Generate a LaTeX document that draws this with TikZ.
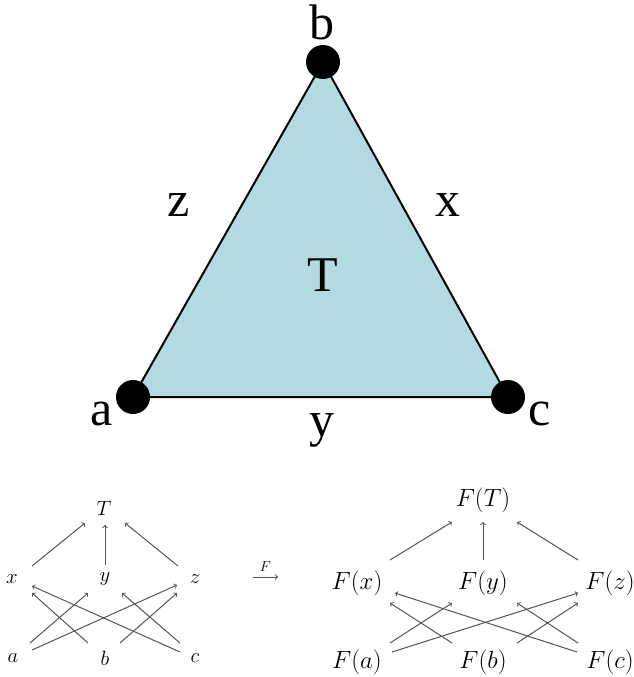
\documentclass[tikz,border=0pt]{standalone}
\usepackage[no-math]{fontspec}
\newfontfamily\trifont{Liberation Serif}
\usetikzlibrary{calc}
\definecolor{trifill}{RGB}{178,218,224}
\definecolor{arrgray}{RGB}{85,85,85}
\begin{document}
\begin{tikzpicture}[x=1pt,y=-1pt,
  biglabel/.style={font=\trifont\fontsize{50}{56}\selectfont, inner sep=0pt},
  vdot/.style={circle, fill=black, minimum size=34pt, inner sep=0pt},
  smalllab/.style={font=\fontsize{21}{25}\selectfont, inner sep=0pt},
  flab/.style={font=\fontsize{24}{28}\selectfont, inner sep=0pt},
  arr/.style={->, draw=arrgray, line width=1pt}]
\useasboundingbox (0,0) rectangle (634,677);
% triangle
\coordinate (A) at (133,397);
\coordinate (B) at (323,62);
\coordinate (C) at (508,397);
\filldraw[fill=trifill, draw=black, line width=2pt, line join=round] (A) -- (B) -- (C) -- cycle;
\node[vdot] (da) at (A) {};
\node[vdot] (db) at (B) {};
\node[vdot] (dc) at (C) {};
\node[biglabel] (lb) at (322,22) {b};
\node[biglabel] (la) at (102,414) {a};
\node[biglabel] (lc) at (540,414) {c};
\node[biglabel] (lz) at (179,205) {z};
\node[biglabel] (lx) at (448,205) {x};
\node[biglabel] (lT) at (323,275) {T};
\node[biglabel] (ly) at (322,430) {y};
% left diagram
\node[smalllab] (T) at (104,508) {$T$};
\node[smalllab] (x) at (12,579) {$x$};
\node[smalllab] (y) at (105,579) {$y$};
\node[smalllab] (z) at (195,579) {$z$};
\node[smalllab] (a) at (13,658) {$a$};
\node[smalllab] (b) at (105,658) {$b$};
\node[smalllab] (c) at (195,658) {$c$};
\draw[arr] ($(x)+(20,-13)$) -- ($(T)+(-19,15)$);
\draw[arr] ($(y)+(0,-14)$) -- ($(T)+(1,17)$);
\draw[arr] ($(z)+(-17,-13)$) -- ($(T)+(21,15)$);
\draw[arr] ($(a)+(17,-15)$) -- ($(y)+(-17,14)$);
\draw[arr] ($(a)+(19,-8)$) -- ($(z)+(-18,6)$);
\draw[arr] ($(b)+(-17,-15)$) -- ($(x)+(20,14)$);
\draw[arr] ($(b)+(15,-15)$) -- ($(z)+(-18,14)$);
\draw[arr] ($(c)+(-15,-15)$) -- ($(y)+(17,14)$);
\draw[arr] ($(c)+(-15,-6)$) -- ($(x)+(20,7)$);
% functor arrow
\coordinate (fs) at (253,577);
\coordinate (fe) at (278,577);
\draw[arr] (fs) -- (fe) node[midway, above=2pt, font=\fontsize{15}{17}\selectfont] {$F$};
% right diagram
\node[flab] (FT) at (483,500) {$F(T)$};
\node[flab] (Fx) at (357,583) {$F(x)$};
\node[flab] (Fy) at (483,583) {$F(y)$};
\node[flab] (Fz) at (610,583) {$F(z)$};
\node[flab] (Fa) at (357,662) {$F(a)$};
\node[flab] (Fb) at (483,662) {$F(b)$};
\node[flab] (Fc) at (610,662) {$F(c)$};
\draw[arr] ($(Fx)+(33,-23)$) -- ($(FT)+(-31,22)$);
\draw[arr] ($(Fy)+(0,-23)$) -- ($(FT)+(0,22)$);
\draw[arr] ($(Fz)+(-32,-23)$) -- ($(FT)+(34,22)$);
\draw[arr] ($(Fa)+(33,-19)$) -- ($(Fy)+(-31,20)$);
\draw[arr] ($(Fa)+(35,-10)$) -- ($(Fz)+(-32,10)$);
\draw[arr] ($(Fb)+(-31,-19)$) -- ($(Fx)+(33,20)$);
\draw[arr] ($(Fb)+(34,-19)$) -- ($(Fz)+(-32,20)$);
\draw[arr] ($(Fc)+(-32,-19)$) -- ($(Fy)+(34,20)$);
\draw[arr] ($(Fc)+(-33,-10)$) -- ($(Fx)+(38,10)$);
\end{tikzpicture}
\end{document}
